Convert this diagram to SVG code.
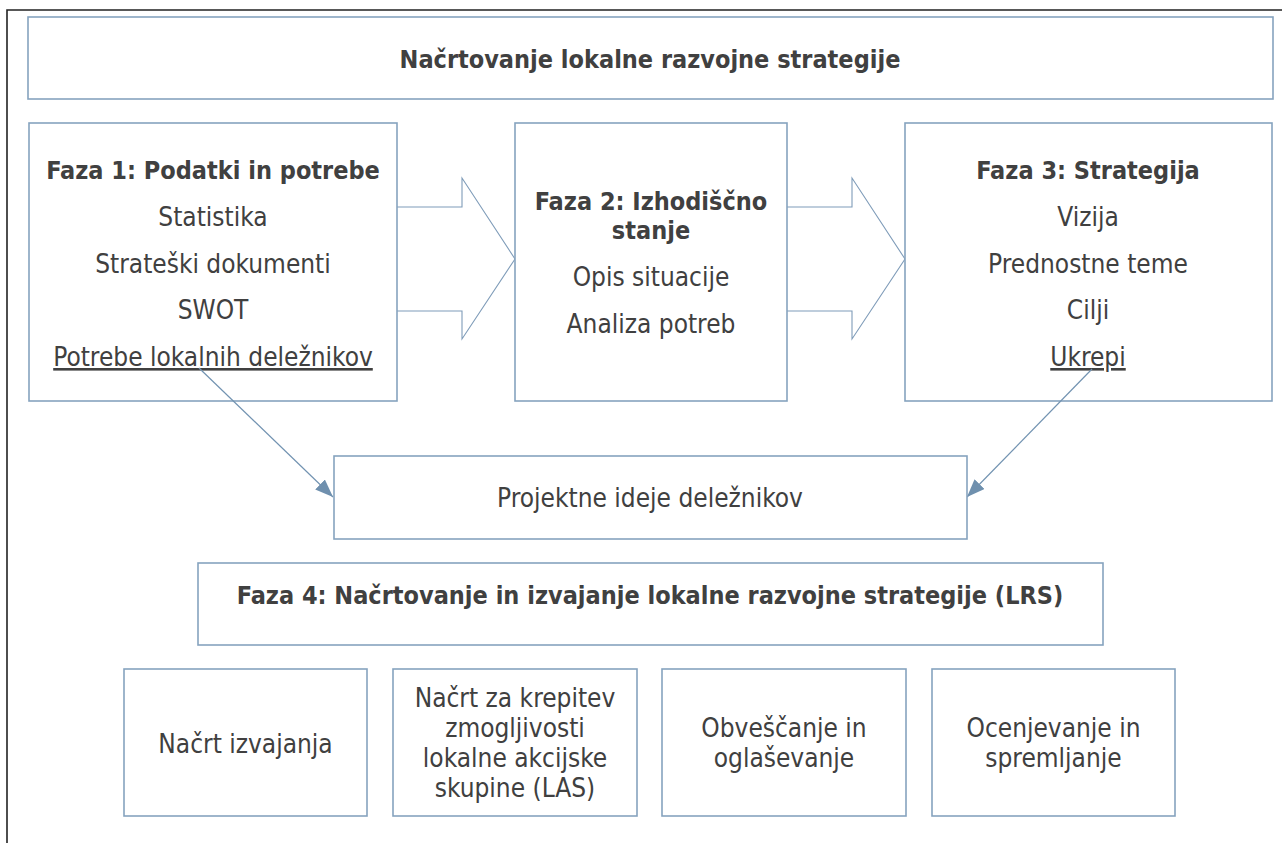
<svg xmlns="http://www.w3.org/2000/svg" width="1282" height="843" viewBox="0 0 1282 843">
<style>
.box{fill:#fff;stroke:#86a3bf;stroke-width:1.6}
.blk{fill:#fff;stroke:#7f9cb9;stroke-width:1.1}
.t{font-family:"DejaVu Sans Condensed","DejaVu Sans",sans-serif;fill:#404040;text-anchor:middle;font-size:26px}
.b{font-weight:bold;font-size:25px}
.u{text-decoration:underline}
.con{stroke:#7293b1;stroke-width:1.2;fill:none}
</style>
<defs>
<marker id="ah" markerUnits="userSpaceOnUse" markerWidth="20" markerHeight="14" refX="18" refY="7" orient="auto">
<path d="M0,0 L18,7 L0,14 z" fill="#6f90ae"/>
</marker>
</defs>
<rect width="1282" height="843" fill="#fff"/>
<path d="M7,843 V10 H1282" fill="none" stroke="#222" stroke-width="1.6"/>

<g id="title">
<rect class="box" x="28" y="17" width="1245" height="82"/>
<text class="t b" x="650" y="68">Načrtovanje lokalne razvojne strategije</text>
</g>

<g id="arrow1">
<path class="blk" d="M397,207 H462 V178 L515,259 L462,339 V311 H397"/>
</g>
<g id="arrow2">
<path class="blk" d="M787,207 H852 V178 L905,259 L852,339 V311 H787"/>
</g>

<g id="faza1">
<rect class="box" x="29" y="123" width="368" height="278"/>
<text class="t b" x="213" y="179">Faza 1: Podatki in potrebe</text>
<text class="t" x="213" y="226">Statistika</text>
<text class="t" x="213" y="273">Strateški dokumenti</text>
<text class="t" x="213" y="319">SWOT</text>
<text class="t u" x="213" y="366">Potrebe lokalnih deležnikov</text>
</g>

<g id="faza2">
<rect class="box" x="515" y="123" width="272" height="278"/>
<text class="t b" x="651" y="210">Faza 2: Izhodiščno</text>
<text class="t b" x="651" y="239">stanje</text>
<text class="t" x="651" y="286">Opis situacije</text>
<text class="t" x="651" y="333">Analiza potreb</text>
</g>

<g id="faza3">
<rect class="box" x="905" y="123" width="367" height="278"/>
<text class="t b" x="1088" y="179">Faza 3: Strategija</text>
<text class="t" x="1088" y="226">Vizija</text>
<text class="t" x="1088" y="273">Prednostne teme</text>
<text class="t" x="1088" y="319">Cilji</text>
<text class="t u" x="1088" y="366">Ukrepi</text>
</g>

<g id="connectors">
<line class="con" x1="199" y1="368" x2="333" y2="497" marker-end="url(#ah)"/>
<line class="con" x1="1092" y1="369" x2="967" y2="497" marker-end="url(#ah)"/>
</g>

<g id="ideje">
<rect class="box" x="334" y="456" width="633" height="83"/>
<text class="t" x="650" y="507">Projektne ideje deležnikov</text>
</g>

<g id="faza4">
<rect class="box" x="198" y="563" width="905" height="82"/>
<text class="t b" x="650" y="604">Faza 4: Načrtovanje in izvajanje lokalne razvojne strategije (LRS)</text>
</g>

<g id="izvajanje">
<rect class="box" x="124" y="669" width="243" height="147"/>
<text class="t" x="245.5" y="753">Načrt izvajanja</text>
</g>
<g id="krepitev">
<rect class="box" x="393" y="669" width="244" height="147"/>
<text class="t" x="515" y="707">Načrt za krepitev</text>
<text class="t" x="515" y="737">zmogljivosti</text>
<text class="t" x="515" y="767">lokalne akcijske</text>
<text class="t" x="515" y="797">skupine (LAS)</text>
</g>
<g id="obvescanje">
<rect class="box" x="662" y="669" width="244" height="147"/>
<text class="t" x="784" y="737">Obveščanje in</text>
<text class="t" x="784" y="767">oglaševanje</text>
</g>
<g id="ocenjevanje">
<rect class="box" x="932" y="669" width="243" height="147"/>
<text class="t" x="1053.5" y="737">Ocenjevanje in</text>
<text class="t" x="1053.5" y="767">spremljanje</text>
</g>
</svg>
